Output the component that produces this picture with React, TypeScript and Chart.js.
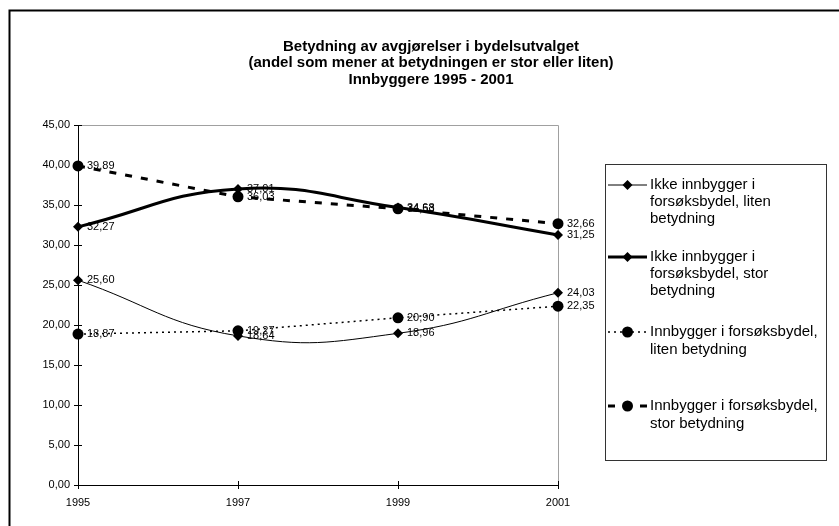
import React, { useEffect, useRef } from "react";
import { Chart, registerables } from "chart.js";

Chart.register(...registerables);

const years = ["1995", "1997", "1999", "2001"];
const ikkeLiten = [25.6, 18.64, 18.96, 24.03];
const ikkeStor = [32.27, 37.01, 34.68, 31.25];
const innLiten = [18.87, 19.27, 20.9, 22.35];
const innStor = [39.89, 36.03, 34.53, 32.66];
const yTicks = [0, 5, 10, 15, 20, 25, 30, 35, 40, 45];

const titleLines = [
  "Betydning av avgjørelser i bydelsutvalget",
  "(andel som mener at betydningen er stor eller liten)",
  "Innbyggere 1995 - 2001",
];
const legendTexts = [
  ["Ikke innbygger i", "forsøksbydel, liten", "betydning"],
  ["Ikke innbygger i", "forsøksbydel, stor", "betydning"],
  ["Innbygger i forsøksbydel,", "liten betydning"],
  ["Innbygger i forsøksbydel,", "stor betydning"],
];

const FONT = "'Liberation Sans', Arial, sans-serif";
const fmt = (v: number) => v.toFixed(2).replace(".", ",");

const styles = [
  { width: 1, dash: [] as number[], marker: "diamond", r: 5 },
  { width: 3, dash: [] as number[], marker: "diamond", r: 5 },
  { width: 1.5, dash: [2, 4], marker: "circle", r: 5.5 },
  { width: 3, dash: [7, 9], marker: "circle", r: 5.5 },
];

function drawMarker(ctx: CanvasRenderingContext2D, kind: string, x: number, y: number, r: number) {
  ctx.save();
  ctx.fillStyle = "#000";
  ctx.beginPath();
  if (kind === "diamond") {
    ctx.moveTo(x, y - r);
    ctx.lineTo(x + r, y);
    ctx.lineTo(x, y + r);
    ctx.lineTo(x - r, y);
    ctx.closePath();
  } else {
    ctx.arc(x, y, r, 0, Math.PI * 2);
  }
  ctx.fill();
  ctx.restore();
}

const decorPlugin = {
  id: "decor",
  beforeDatasetsDraw(chart: any) {
    const ctx = chart.ctx as CanvasRenderingContext2D;
    const a = chart.chartArea;
    ctx.save();
    ctx.strokeStyle = "#a0a0a0";
    ctx.lineWidth = 1;
    ctx.beginPath();
    ctx.moveTo(a.left, Math.round(a.top) + 0.5);
    ctx.lineTo(Math.round(a.right) + 0.5, Math.round(a.top) + 0.5);
    ctx.lineTo(Math.round(a.right) + 0.5, a.bottom);
    ctx.stroke();
    ctx.strokeStyle = "#000";
    const ys = chart.scales.y;
    yTicks.forEach((v) => {
      const py = Math.round(ys.getPixelForValue(v)) + 0.5;
      ctx.beginPath();
      ctx.moveTo(a.left, py);
      ctx.lineTo(a.left + 4, py);
      ctx.stroke();
    });
    const xs = chart.scales.x;
    years.forEach((_, i) => {
      const px = Math.round(xs.getPixelForValue(i)) + 0.5;
      ctx.beginPath();
      ctx.moveTo(px, a.bottom);
      ctx.lineTo(px, a.bottom - 4);
      ctx.stroke();
    });
    ctx.restore();
  },
  afterDatasetsDraw(chart: any) {
    const ctx = chart.ctx as CanvasRenderingContext2D;
    ctx.save();
    ctx.fillStyle = "#000";
    ctx.font = `11px ${FONT}`;
    ctx.textAlign = "left";
    ctx.textBaseline = "middle";
    chart.data.datasets.forEach((ds: any, i: number) => {
      const meta = chart.getDatasetMeta(i);
      meta.data.forEach((pt: any, j: number) => {
        ctx.fillText(fmt(ds.data[j]), pt.x + 9, pt.y);
      });
    });
    ctx.restore();
  },
  afterDraw(chart: any) {
    const ctx = chart.ctx as CanvasRenderingContext2D;
    ctx.save();
    ctx.strokeStyle = "#000";
    ctx.lineWidth = 2;
    ctx.strokeRect(9.5, 10.5, 900, 600);
    ctx.fillStyle = "#000";
    ctx.font = `bold 15px ${FONT}`;
    ctx.textAlign = "center";
    ctx.textBaseline = "middle";
    const tys = [47, 63, 80];
    titleLines.forEach((t, i) => ctx.fillText(t, 431, tys[i]));
    ctx.lineWidth = 1;
    ctx.strokeStyle = "#333";
    ctx.strokeRect(605.5, 164.5, 221, 296);
    const entryY = [
      [185, 202, 219],
      [257, 274, 291],
      [332, 350],
      [406, 424],
    ];
    ctx.font = `15px ${FONT}`;
    ctx.textAlign = "left";
    legendTexts.forEach((lines, i) => {
      const st = styles[i];
      const sy = entryY[i][0];
      ctx.save();
      ctx.strokeStyle = "#000";
      ctx.lineWidth = st.width;
      ctx.setLineDash(st.dash);
      ctx.beginPath();
      ctx.moveTo(608, sy);
      ctx.lineTo(647, sy);
      ctx.stroke();
      ctx.restore();
      drawMarker(ctx, st.marker, 627.5, sy, st.r);
      lines.forEach((l, k) => ctx.fillText(l, 650, entryY[i][k]));
    });
    ctx.restore();
  },
};

export default function App() {
  const ref = useRef<HTMLCanvasElement | null>(null);
  useEffect(() => {
    document.body.style.margin = "0";
    const canvas = ref.current;
    if (!canvas) return;
    const series = [ikkeLiten, ikkeStor, innLiten, innStor];
    const chart = new Chart(canvas, {
      type: "line",
      data: {
        labels: years,
        datasets: series.map((d, i) => ({
          label: legendTexts[i].join(" "),
          data: d,
          borderColor: "#000",
          backgroundColor: "#000",
          borderWidth: styles[i].width,
          borderDash: styles[i].dash,
          tension: i < 2 ? 0.45 : 0,
          pointStyle: styles[i].marker === "diamond" ? "rectRot" : "circle",
          pointRadius: styles[i].r,
          pointBorderWidth: 0,
          pointBackgroundColor: "#000",
          fill: false,
          clip: false as any,
        })),
      },
      options: {
        responsive: false,
        animation: false,
        layout: { padding: { top: 125, right: 281, left: 0, bottom: 0 } },
        plugins: {
          legend: { display: false },
          title: { display: false },
          tooltip: { enabled: false },
        },
        scales: {
          x: {
            type: "category",
            offset: false,
            afterFit: (s: any) => {
              s.height = 41;
            },
            grid: {
              display: true,
              drawOnChartArea: false,
              drawTicks: true,
              tickLength: 4,
              color: "#000",
            },
            border: { display: true, color: "#000", width: 1 },
            ticks: {
              color: "#000",
              font: { family: FONT, size: 11 },
              padding: 7,
              maxRotation: 0,
              autoSkip: false,
            },
          },
          y: {
            min: 0,
            max: 45,
            afterFit: (s: any) => {
              s.width = 78;
            },
            grid: {
              display: true,
              drawOnChartArea: false,
              drawTicks: true,
              tickLength: 4,
              color: "#000",
            },
            border: { display: true, color: "#000", width: 1 },
            ticks: {
              stepSize: 5,
              color: "#000",
              padding: 4,
              font: { family: FONT, size: 11 },
              callback: (v: any) => fmt(Number(v)),
            },
          },
        },
      },
      plugins: [decorPlugin],
    });
    return () => chart.destroy();
  }, []);
  return (
    <div style={{ width: 839, height: 526, overflow: "hidden" }}>
      <canvas ref={ref} width={839} height={526} style={{ display: "block" }} />
    </div>
  );
}
